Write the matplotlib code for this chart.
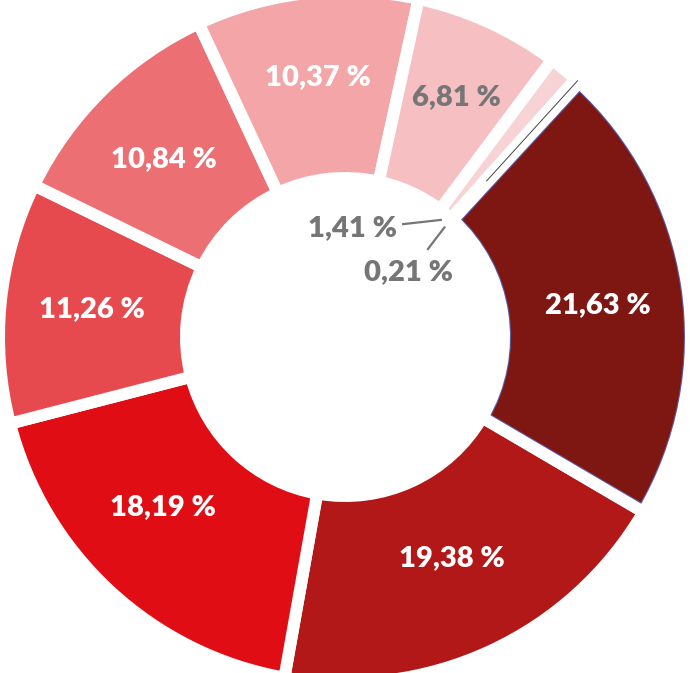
import numpy as np
import matplotlib.pyplot as plt
from matplotlib.patches import Wedge

plt.rcParams['font.family'] = ['Lato', 'DejaVu Sans']

# data (clockwise, starting top right)
shares = [21.63, 19.38, 18.19, 11.26, 10.84, 10.37, 6.81, 1.41, 0.21]
labels = ['21,63 %', '19,38 %', '18,19 %', '11,26 %', '10,84 %',
          '10,37 %', '6,81 %', '1,41 %', '0,21 %']
colors = ['#7E1611', '#B21817', '#E10D15', '#E64A4F', '#EC6F73',
          '#F3A5A7', '#F6C0C3', '#F8D3D5', '#FFFFFF']

# label placement inside the ring (radius, angle nudge in degrees)
label_r = [0.749, 0.721, 0.733, 0.749, 0.747, 0.768, 0.777]
label_nudge = [-1.3, 1.0, -4.0, -0.5, 1.0, -0.4, -0.4]

PX = 340.0                      # pixels per data unit
fig = plt.figure(figsize=(6.9, 6.73), dpi=100)
ax = fig.add_axes([0, 0, 1, 1])

R_out = 346 / PX
R_in = 159 / PX
gap = 12 * 72 / 100             # white gap, 12 px in points

wedges, _ = ax.pie(shares, colors=colors, startangle=47.4, counterclock=False,
                   radius=R_out,
                   wedgeprops=dict(width=R_out - R_in, edgecolor='white',
                                   linewidth=gap))

# thin blue border on the largest slice
w0 = wedges[0]
w0.set_edgecolor('none')
blue = Wedge(w0.center, w0.r, w0.theta1, w0.theta2, width=w0.width,
             facecolor='none', edgecolor='#5B5BA8', linewidth=gap + 1.6,
             zorder=1.1)
ax.add_patch(blue)
blue.set_clip_path(w0)
ax.add_patch(Wedge(w0.center, w0.r, w0.theta1, w0.theta2, width=w0.width,
                   facecolor='none', edgecolor='white', linewidth=gap,
                   zorder=1.2))

# the tiny slice shows only as a dark hairline
w8 = wedges[8]
mid8 = np.deg2rad((w8.theta1 + w8.theta2) / 2)
ax.plot([0.62 * np.cos(mid8), R_out * np.cos(mid8)],
        [0.62 * np.sin(mid8), R_out * np.sin(mid8)],
        color='#444444', lw=0.7, zorder=3)

grey = '#767676'
fs = 21
for i, w in enumerate(wedges[:7]):
    a = np.deg2rad((w.theta1 + w.theta2) / 2 + label_nudge[i])
    r = label_r[i]
    ax.text(r * np.cos(a), r * np.sin(a), labels[i], ha='center', va='center',
            fontsize=fs, fontweight='heavy',
            color='white' if i < 6 else grey, zorder=4)

# leader labels for the two small slices
w7 = wedges[7]
a7 = np.deg2rad((w7.theta1 + w7.theta2) / 2)
ax.plot([0.445 * np.cos(a7), 0.171], [0.445 * np.sin(a7), 0.332],
        color=grey, lw=1.6, zorder=4)
ax.text(0.153, 0.321, labels[7], ha='right', va='center', fontsize=fs,
        fontweight='heavy', color=grey, zorder=4)

ax.plot([0.435 * np.cos(mid8), 0.244], [0.435 * np.sin(mid8), 0.259],
        color=grey, lw=1.6, zorder=4)
ax.text(0.188, 0.191, labels[8], ha='center', va='center', fontsize=fs,
        fontweight='heavy', color=grey, zorder=4)

ax.set_xlim(-345 / PX, 345 / PX)
ax.set_ylim(-336 / PX, 337 / PX)
ax.set_aspect('auto')
ax.axis('off')

fig.savefig('out.png', dpi=100)
